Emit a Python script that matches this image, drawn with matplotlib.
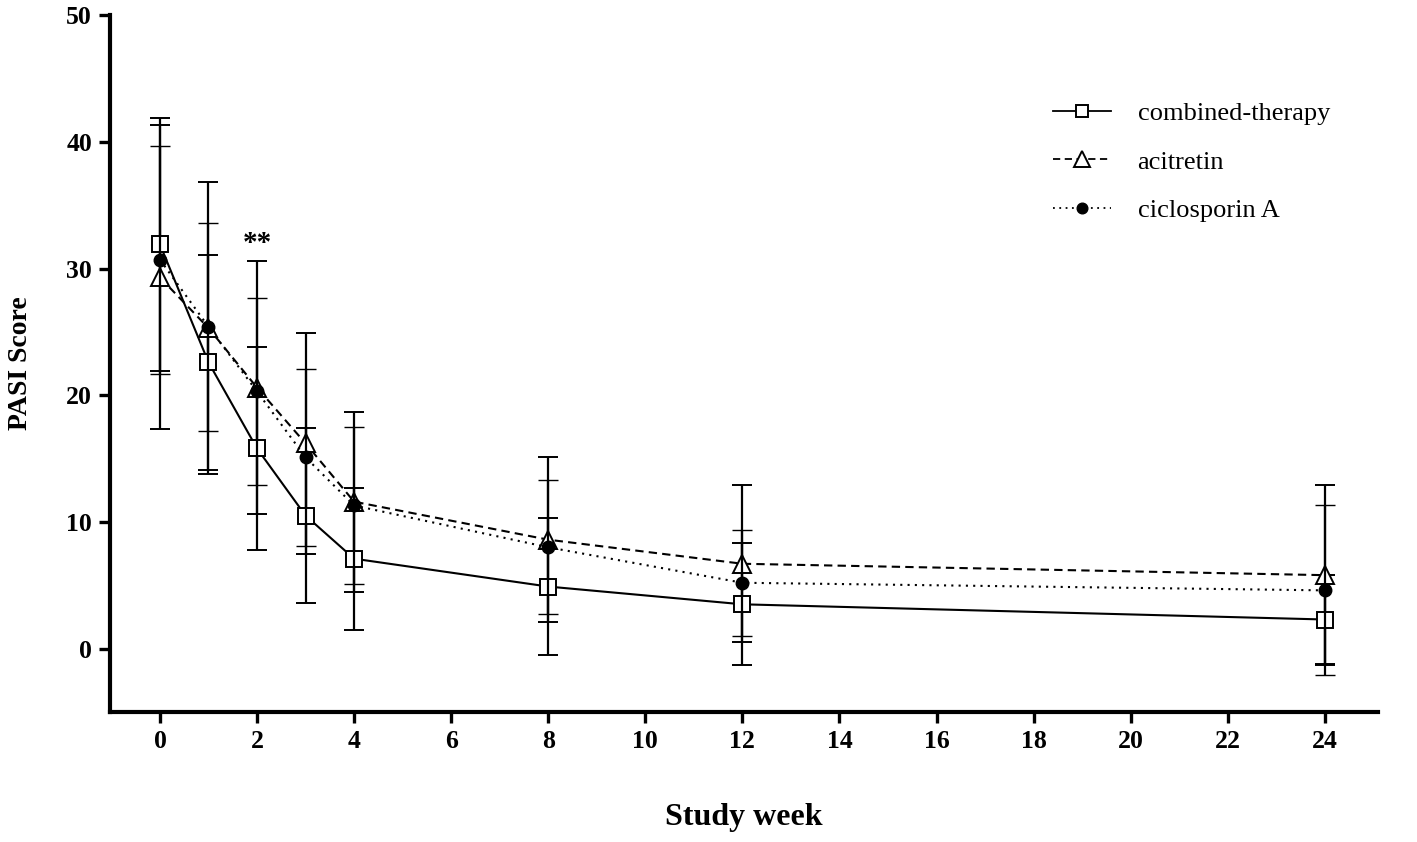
import matplotlib
matplotlib.use("Agg")
import matplotlib.pyplot as plt
from matplotlib.lines import Line2D

plt.rcParams["font.family"] = ["Liberation Serif", "DejaVu Serif"]

weeks = [0, 1, 2, 3, 4, 8, 12, 24]

combined_mean = [31.9, 22.6, 15.8, 10.5, 7.1, 4.9, 3.5, 2.3]
combined_sd = [10.0, 8.5, 8.0, 6.9, 5.6, 5.4, 4.8, 3.5]

acitretin_mean = [29.3, 25.3, 20.6, 16.2, 11.6, 8.6, 6.7, 5.8]
acitretin_sd = [12.0, 11.5, 10.0, 8.7, 7.1, 6.5, 6.2, 7.1]

ciclo_mean = [30.7, 25.4, 20.3, 15.1, 11.3, 8.0, 5.2, 4.6]
ciclo_sd = [9.0, 8.2, 7.4, 7.0, 6.2, 5.3, 4.2, 6.7]

fig = plt.figure(figsize=(14.17, 8.42), dpi=100)
ax = fig.add_axes([0.0776, 0.1544, 0.895, 0.8276])

err_kw = dict(ecolor="black", elinewidth=1.6, capsize=7.5, capthick=1.6, color="black")

styles = [
    dict(ls="-", marker="s", ms=11, mfc="white", mew=1.4),
    dict(ls=(0, (4, 2.5)), marker="^", ms=13, mfc="white", mew=1.4),
    dict(ls=(0, (1, 2.5)), marker="o", ms=9, mfc="black", mew=1.0),
]
labels = ["combined-therapy", "acitretin", "ciclosporin A"]

ax.errorbar(weeks, combined_mean, yerr=combined_sd, lw=1.5, mec="black", zorder=3,
            **styles[0], **err_kw)
ax.errorbar(weeks, acitretin_mean, yerr=acitretin_sd, lw=1.5, mec="black", zorder=3,
            **styles[1], **err_kw)
ax.errorbar(weeks, ciclo_mean, yerr=ciclo_sd, lw=1.5, mec="black", zorder=4,
            **styles[2], **err_kw)

ax.text(2, 30.9, "**", ha="center", va="bottom", fontsize=21, fontweight="bold")

ax.set_xlim(-1.03, 25.1)
ax.set_ylim(-5, 50)
ax.set_xticks(range(0, 25, 2))
ax.set_yticks(range(0, 51, 10))

for s in ["top", "right"]:
    ax.spines[s].set_visible(False)
for s in ["left", "bottom"]:
    ax.spines[s].set_linewidth(3.0)
ax.tick_params(width=2.4, length=8, labelsize=18.5, direction="out", pad=5)
for lab in ax.get_xticklabels() + ax.get_yticklabels():
    lab.set_fontweight("bold")

ax.set_xlabel("Study week", fontsize=23, fontweight="bold", labelpad=36)
ax.set_ylabel("PASI Score", fontsize=20, fontweight="bold", labelpad=24)

handles = [Line2D([], [], color="black", lw=1.3, mec="black",
                  **{**st, "ms": st["ms"] * 0.85}) for st in styles]
ax.legend(handles, labels, loc="upper left", bbox_to_anchor=(0.725, 0.91), frameon=False,
          fontsize=19, handlelength=2.2, labelspacing=0.95, handletextpad=1.0)

fig.savefig("out.png", dpi=100)
